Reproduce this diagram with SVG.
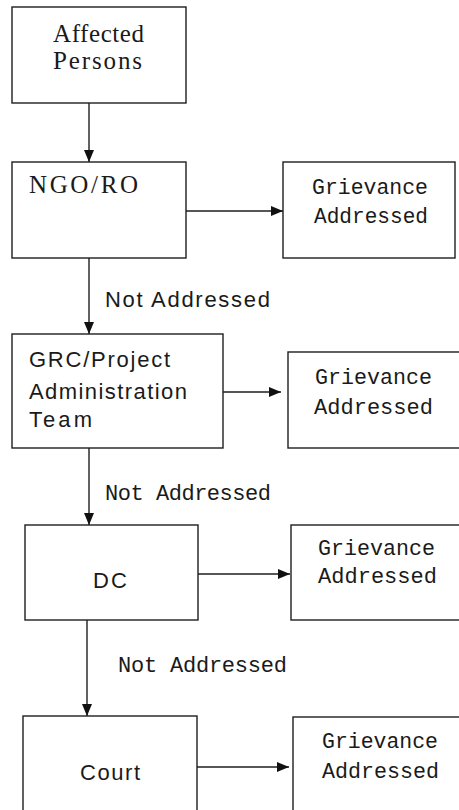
<svg xmlns="http://www.w3.org/2000/svg" width="459" height="810" viewBox="0 0 459 810">
<style>
.box{fill:#fff;stroke:#1e1e1e;stroke-width:1.4}
.ser{font-family:"Liberation Mono","Courier New",monospace;font-size:22px;fill:#1a1a1a}
.tms{font-family:"Liberation Serif","Times New Roman",serif;font-size:25px;fill:#1a1a1a}
.san{font-family:"Liberation Sans",Arial,sans-serif;font-size:22px;fill:#1a1a1a}
.edge{stroke:#1e1e1e;stroke-width:1.4;fill:none;marker-end:url(#ah)}
</style>
<defs>
<marker id="ah" markerUnits="userSpaceOnUse" markerWidth="12" markerHeight="10" refX="12" refY="5" orient="auto">
<path d="M0,0 L12,5 L0,10 z" fill="#111"/>
</marker>
</defs>
<rect width="459" height="810" fill="#fff"/>
<g id="edges">
<line class="edge" x1="89" y1="103" x2="89" y2="162"/>
<line class="edge" x1="186" y1="211" x2="283" y2="211"/>
<line class="edge" x1="89" y1="258" x2="89" y2="334"/>
<line class="edge" x1="223" y1="392" x2="281" y2="392"/>
<line class="edge" x1="89" y1="448" x2="89" y2="525"/>
<line class="edge" x1="198" y1="574" x2="290" y2="574"/>
<line class="edge" x1="87" y1="618" x2="87" y2="716"/>
<line class="edge" x1="197" y1="767" x2="289" y2="767"/>
<text class="san" x="105" y="307" textLength="165" lengthAdjust="spacing">Not Addressed</text>
<text class="ser" x="105" y="500" textLength="166" lengthAdjust="spacing">Not Addressed</text>
<text class="ser" x="118" y="672" textLength="169" lengthAdjust="spacing">Not Addressed</text>
</g>
<g id="affected">
<rect class="box" x="12" y="7" width="174" height="96"/>
<text class="tms" x="53" y="42" textLength="91" lengthAdjust="spacing">Affected</text>
<text class="tms" x="53" y="69" textLength="89" lengthAdjust="spacing">Persons</text>
</g>
<g id="ngo">
<rect class="box" x="12" y="162" width="174" height="96"/>
<text class="tms" x="29" y="193" font-size="27" textLength="109" lengthAdjust="spacing">NGO/RO</text>
</g>
<g id="g1">
<rect class="box" x="283" y="162" width="172" height="96"/>
<text class="ser" x="312" y="194" textLength="116" lengthAdjust="spacingAndGlyphs">Grievance</text>
<text class="ser" x="314" y="223" textLength="114" lengthAdjust="spacingAndGlyphs">Addressed</text>
</g>
<g id="grc">
<rect class="box" x="12" y="334" width="211" height="114"/>
<text class="san" x="29" y="367" textLength="141" lengthAdjust="spacing">GRC/Project</text>
<text class="san" x="29" y="399" textLength="158" lengthAdjust="spacing">Administration</text>
<text class="san" x="29" y="427" textLength="63" lengthAdjust="spacing">Team</text>
</g>
<g id="g2">
<rect class="box" x="288" y="352" width="180" height="96"/>
<text class="ser" x="315" y="384" textLength="117" lengthAdjust="spacingAndGlyphs">Grievance</text>
<text class="ser" x="314" y="414" textLength="119" lengthAdjust="spacingAndGlyphs">Addressed</text>
</g>
<g id="dc">
<rect class="box" x="25" y="525" width="173" height="95"/>
<text class="san" x="93" y="588" textLength="34" lengthAdjust="spacing">DC</text>
</g>
<g id="g3">
<rect class="box" x="291" y="525" width="180" height="95"/>
<text class="ser" x="318" y="555" textLength="117" lengthAdjust="spacingAndGlyphs">Grievance</text>
<text class="ser" x="318" y="583" textLength="119" lengthAdjust="spacingAndGlyphs">Addressed</text>
</g>
<g id="court">
<rect class="box" x="23" y="716" width="174" height="110"/>
<text class="san" x="80" y="780" textLength="60" lengthAdjust="spacing">Court</text>
</g>
<g id="g4">
<rect class="box" x="293" y="717" width="180" height="110"/>
<text class="ser" x="322" y="748" textLength="116" lengthAdjust="spacingAndGlyphs">Grievance</text>
<text class="ser" x="322" y="778" textLength="117" lengthAdjust="spacingAndGlyphs">Addressed</text>
</g>
</svg>
